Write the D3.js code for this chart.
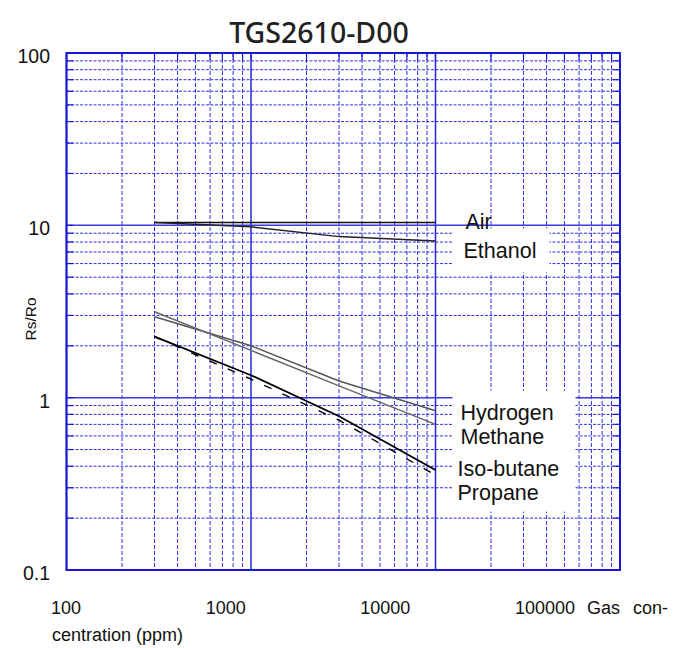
<!DOCTYPE html>
<html>
<head>
<meta charset="utf-8">
<script src="https://cdn.jsdelivr.net/npm/d3@7"></script>
<style>
  body { margin: 0; background: #fff; }
  text { font-family: "Liberation Sans", Arial, sans-serif; fill: #111; }
</style>
</head>
<body>
<div id="chart"></div>
<script>
var vWidth = 676;
var vHeight = 648;

// Chart values
var concentrations = [300, 1000, 3000, 10000];
var air        = [10.4, 10.4, 10.4, 10.4];
var ethanol    = [10.4, 9.8, 8.6, 8.1];
var hydrogen   = [2.95, 2.0, 1.25, 0.84];
var methane    = [3.15, 1.88, 1.17, 0.70];
var isoButane  = [2.26, 1.35, 0.78, 0.38];
var propane    = [2.26, 1.28, 0.74, 0.355];

var xDomain = [100, 100000];
var yDomain = [0.1, 100];
var xTickLabels = ["100", "1000", "10000", "100000"];
var yTickValues = [0.1, 1, 10, 100];
var yTickLabels = ["0.1", "1", "10", "100"];

var upperNames = ["Air", "Ethanol"];
var lowerNames = ["Hydrogen", "Methane", "Iso-butane", "Propane"];

var pLeft = 66.5, pRight = 620, pTop = 53, pBottom = 570;

var svg = d3.select("#chart")
            .append("svg")
            .attr("width", vWidth)
            .attr("height", vHeight);

var x = d3.scaleLog().domain(xDomain).range([pLeft, pRight]);
var y = d3.scaleLog().domain(yDomain).range([pBottom, pTop]);

function isMajor(v) {
    var l = Math.log10(v);
    return Math.abs(l - Math.round(l)) < 1e-9;
}

var xTicks = x.ticks();
var yTicks = y.ticks();

var grid = svg.append("g");

// minor dashed grid
grid.selectAll(".vminor").data(xTicks.filter(d => !isMajor(d))).enter()
    .append("line")
    .attr("x1", d => x(d)).attr("x2", d => x(d))
    .attr("y1", pTop).attr("y2", pBottom)
    .attr("stroke", "#2f2fe4").attr("stroke-width", 1)
    .attr("stroke-dasharray", "4,2");

grid.selectAll(".hminor").data(yTicks.filter(d => !isMajor(d))).enter()
    .append("line")
    .attr("x1", pLeft).attr("x2", pRight)
    .attr("y1", d => y(d)).attr("y2", d => y(d))
    .attr("stroke", "#2f2fe4").attr("stroke-width", 1)
    .attr("stroke-dasharray", "3,1.5");

// major solid grid
grid.selectAll(".vmajor").data(xTicks.filter(isMajor)).enter()
    .append("line")
    .attr("x1", d => x(d)).attr("x2", d => x(d))
    .attr("y1", pTop).attr("y2", pBottom)
    .attr("stroke", "#2323d8").attr("stroke-width", 1.5);

grid.selectAll(".hmajor").data(yTicks.filter(isMajor)).enter()
    .append("line")
    .attr("x1", pLeft).attr("x2", pRight)
    .attr("y1", d => y(d)).attr("y2", d => y(d))
    .attr("stroke", "#3a3ae0").attr("stroke-width", 1.5);

// short solid stubs at the frame edges
var stub = 7;
xTicks.forEach(function (d) {
    grid.append("line").attr("x1", x(d)).attr("x2", x(d)).attr("y1", pTop).attr("y2", pTop + stub)
        .attr("stroke", "#1a1ad2").attr("stroke-width", 1.2);
});
yTicks.forEach(function (d) {
    grid.append("line").attr("x1", pLeft).attr("x2", pLeft + stub).attr("y1", y(d)).attr("y2", y(d))
        .attr("stroke", "#1a1ad2").attr("stroke-width", 1.2);
    grid.append("line").attr("x1", pRight - stub).attr("x2", pRight).attr("y1", y(d)).attr("y2", y(d))
        .attr("stroke", "#1a1ad2").attr("stroke-width", 1.2);
});

// frame
grid.append("rect")
    .attr("x", pLeft).attr("y", pTop)
    .attr("width", pRight - pLeft).attr("height", pBottom - pTop)
    .attr("fill", "none").attr("stroke", "#1818d0").attr("stroke-width", 2);

// white label boxes (cover the grid like in the datasheet)
var boxX = x(10000) + 17;
svg.append("rect").attr("x", boxX).attr("y", y(10) + 3)
    .attr("width", 97).attr("height", 44).attr("fill", "#fff");
svg.append("rect").attr("x", boxX).attr("y", y(1) - 7)
    .attr("width", 123).attr("height", 121).attr("fill", "#fff");

// curves
var series = [
    { vals: air,       color: "#111", width: 1.5, dash: null },
    { vals: ethanol,   color: "#222", width: 1.5, dash: null },
    { vals: hydrogen,  color: "#555", width: 1.5, dash: null },
    { vals: methane,   color: "#666", width: 1.5, dash: null },
    { vals: isoButane, color: "#000", width: 1.8, dash: null },
    { vals: propane,   color: "#000", width: 1.4, dash: "8,12" }
];

var line = d3.line()
    .x(d => x(d[0]))
    .y(d => y(d[1]));

svg.append("g").selectAll("path").data(series).enter()
    .append("path")
    .attr("d", s => line(concentrations.map((c, i) => [c, s.vals[i]])))
    .attr("fill", "none")
    .attr("stroke", s => s.color)
    .attr("stroke-width", s => s.width)
    .attr("stroke-dasharray", s => s.dash);

// series labels
var labelX = x(10000) + 30;
svg.append("g").selectAll("text").data(upperNames).enter()
    .append("text")
    .attr("x", (d, i) => labelX - 2 * i)
    .attr("y", (d, i) => y(10) + 4 + i * 29)
    .attr("font-size", 21.5)
    .text(d => d);

svg.append("g").selectAll("text").data(lowerNames).enter()
    .append("text")
    .attr("x", (d, i) => labelX - 5 - (i > 1 ? 3 : 0))
    .attr("y", (d, i) => y(1) + 22 + i * 24 + (i > 1 ? 8 : 0))
    .attr("font-size", 21.5)
    .text(d => d);

// y tick labels
svg.append("g").selectAll("text").data(yTickValues).enter()
    .append("text")
    .attr("x", 50)
    .attr("y", d => y(d) + 10)
    .attr("text-anchor", "end")
    .attr("font-size", 19.5)
    .text((d, i) => yTickLabels[i]);

// x tick labels (set as a text line under the chart, as in the datasheet)
var xLabelPos = d3.scalePoint().domain(xTickLabels).range([66, 545]);
svg.append("g").selectAll("text").data(xTickLabels).enter()
    .append("text")
    .attr("x", d => xLabelPos(d))
    .attr("y", 614)
    .attr("text-anchor", "middle")
    .attr("font-size", 18)
    .text(d => d);

svg.append("text")
    .attr("x", 587).attr("y", 614)
    .attr("font-size", 18)
    .attr("word-spacing", 8)
    .text("Gas con-");

svg.append("text")
    .attr("x", 52).attr("y", 641)
    .attr("font-size", 18)
    .text("centration (ppm)");

// y axis title
svg.append("text")
    .attr("transform", "translate(36,319) rotate(-90)")
    .attr("text-anchor", "middle")
    .attr("font-size", 15.5)
    .text("Rs/Ro");

// title
svg.append("text")
    .attr("x", 319).attr("y", 43)
    .attr("text-anchor", "middle")
    .style("font-family", "'Noto Sans', sans-serif")
    .style("font-weight", 500)
    .style("font-size", "28.5px")
    .style("letter-spacing", "0px")
    .style("fill", "#222")
    .text("TGS2610-D00");
</script>
</body>
</html>
